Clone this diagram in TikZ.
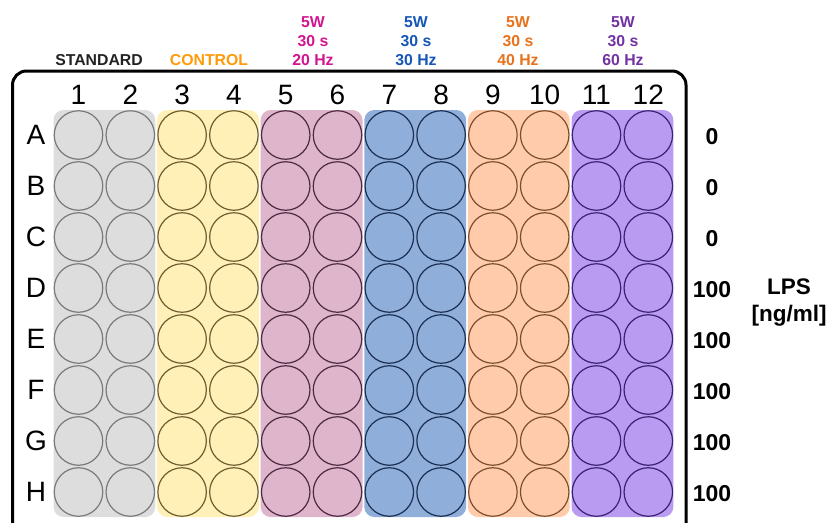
\documentclass[tikz,border=0pt]{standalone}
\usepackage{fontspec}
\setmainfont{Liberation Sans}
\usetikzlibrary{calc}

% backing / well outline colours per group
\definecolor{stdfill}{HTML}{DDDDDD}\definecolor{stdline}{HTML}{7A7A7A}
\definecolor{ctlfill}{HTML}{FFF0B8}\definecolor{ctlline}{HTML}{6E5E30}
\definecolor{pinkfill}{HTML}{DEB5CA}\definecolor{pinkline}{HTML}{4C2A42}
\definecolor{bluefill}{HTML}{8FAEDA}\definecolor{blueline}{HTML}{1B2F52}
\definecolor{peachfill}{HTML}{FFCBAA}\definecolor{peachline}{HTML}{7A4F30}
\definecolor{purpfill}{HTML}{B99BF2}\definecolor{purpline}{HTML}{3A2270}
% label colours
\definecolor{stdtext}{HTML}{222222}
\definecolor{ctltext}{HTML}{FF9A0A}
\definecolor{pinktext}{HTML}{D2148F}
\definecolor{bluetext}{HTML}{1656B7}
\definecolor{peachtext}{HTML}{E8721C}
\definecolor{purptext}{HTML}{7132A3}

\begin{document}
\begin{tikzpicture}[x=1pt,y=-1pt,
    well/.style={circle,draw,line width=1.2pt,minimum size=48.5pt,inner sep=0pt},
    collabel/.style={font=\fontsize{28}{28}\selectfont,inner sep=0pt},
    grplabel/.style={font=\fontsize{15.8}{19}\selectfont\bfseries,align=center,inner sep=0pt},
    conc/.style={font=\fontsize{23}{27}\selectfont\bfseries,inner sep=0pt}]
    \clip (0,0) rectangle (834,522);
    % plate outline (runs off the bottom)
    \draw [line width=3pt,rounded corners=14pt] (12.5,560) -- (12.5,71) -- (686,71) -- (686,560);
    % column groups with their wells
    \foreach \fc/\lc [count=\g] in {stdfill/stdline,ctlfill/ctlline,pinkfill/pinkline,
                                    bluefill/blueline,peachfill/peachline,purpfill/purpline} {
        \pgfmathsetmacro\xa{78.5+(2*\g-2)*51.8}
        \pgfmathsetmacro\xb{\xa+51.8}
        \fill [\fc,rounded corners=10pt] (\xa-25,110) rectangle (\xb+25,517);
        \pgfmathtruncatemacro\ca{2*\g-1}
        \pgfmathtruncatemacro\cb{2*\g}
        \foreach \c in {\ca,\cb}
            \foreach \r [count=\ri] in {A,B,C,D,E,F,G,H}
                \node [well,fill=\fc,draw=\lc] (well-\r\c) at ({78.5+(\c-1)*51.8},{135+(\ri-1)*51}) {};
    }
    % column numbers
    \foreach \c in {1,...,12}
        \node [collabel] (num-\c) at ({78.5+(\c-1)*51.8},95) {\c};
    % row letters and LPS concentrations
    \foreach \r/\v [count=\ri] in {A/0,B/0,C/0,D/100,E/100,F/100,G/100,H/100} {
        \node [collabel] (row-\r) at (36,{135+(\ri-1)*51}) {\r};
        \node [conc] (conc-\r) at (712,{137+(\ri-1)*51}) {\v};
    }
    \node [conc,font=\fontsize{22.5}{27}\selectfont\bfseries,align=center] (lps) at (789,303) {LPS\\{[ng/ml]}};
    % group labels
    \node [grplabel,text=stdtext] (std) at (99,60) {STANDARD};
    \node [grplabel,text=ctltext] (ctl) at (209,60) {CONTROL};
    \node [grplabel,text=pinktext] (hz20) at (313,41) {5W\\30 s\\20 Hz};
    \node [grplabel,text=bluetext] (hz30) at (416,41) {5W\\30 s\\30 Hz};
    \node [grplabel,text=peachtext] (hz40) at (518,41) {5W\\30 s\\40 Hz};
    \node [grplabel,text=purptext] (hz60) at (623,41) {5W\\30 s\\60 Hz};
\end{tikzpicture}
\end{document}
